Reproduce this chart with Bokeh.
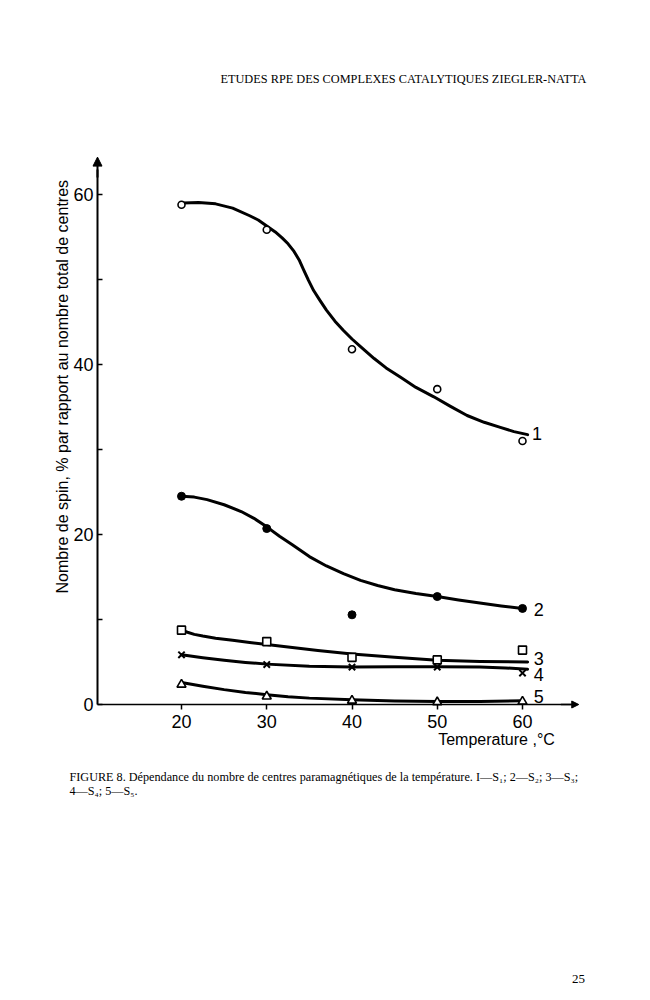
import math
from bokeh.plotting import figure
from bokeh.models import FixedTicker, Label, Arrow, NormalHead, Range1d
from bokeh.embed import file_html
from bokeh.resources import INLINE

# ---- data ----
temps = [20, 30, 40, 50, 60]
s1 = [58.8, 55.85, 41.8, 37.1, 31.0]
s2 = [24.5, 20.7, 10.55, 12.7, 11.3]
s3 = [8.75, 7.4, 5.55, 5.25, 6.4]
s4 = [5.85, 4.7, 4.4, 4.4, 3.7]
s5 = [2.35, 0.95, 0.47, 0.27, 0.35]

# hand-drawn fitted curves
c1_t = [20.2, 22, 24, 26, 28, 29, 30, 31, 31.8, 32.5, 33.2, 33.8, 34.3, 34.9, 35.5, 36.2, 37, 38, 39, 40, 41, 42.6, 44, 45.7, 47.5, 49.6, 51.5, 53.5, 55.5, 57.4, 59, 60.6]
c1_v = [59.0, 59.05, 58.9, 58.4, 57.5, 57.0, 56.3, 55.6, 54.9, 54.2, 53.3, 52.3, 51.2, 49.9, 48.7, 47.6, 46.4, 45.1, 44.0, 43.0, 42.1, 40.7, 39.6, 38.5, 37.3, 36.2, 35.1, 34.0, 33.2, 32.6, 32.1, 31.75]
c2_t = [20, 21.5, 23, 25, 27, 28.5, 30, 31.5, 33, 35, 37, 39, 41, 43, 45, 47.5, 50, 52.5, 55, 57.5, 60]
c2_v = [24.5, 24.4, 24.1, 23.5, 22.7, 21.9, 20.9, 19.8, 18.8, 17.4, 16.3, 15.4, 14.6, 14.0, 13.5, 13.05, 12.7, 12.3, 11.95, 11.6, 11.3]
c3_t = [20, 20.7, 21.5, 22.5, 24, 26, 28, 30, 33, 36, 40, 45, 50, 55, 60.6]
c3_v = [8.75, 8.5, 8.25, 8.05, 7.8, 7.55, 7.3, 7.05, 6.7, 6.35, 5.95, 5.55, 5.2, 5.05, 5.0]
c4_t = [20, 22.5, 25, 27.5, 30, 35, 40, 45, 50, 55, 58, 60.6]
c4_v = [5.85, 5.5, 5.2, 4.95, 4.75, 4.5, 4.42, 4.45, 4.45, 4.4, 4.3, 4.15]
c5_t = [20, 22.5, 25, 27.5, 30, 32.5, 35, 40, 45, 50, 55, 60]
c5_v = [2.6, 2.15, 1.75, 1.42, 1.15, 0.92, 0.75, 0.55, 0.4, 0.35, 0.35, 0.45]

x_ticks = [20, 30, 40, 50, 60]
y_ticks = [0, 20, 40, 60]
y_minor = [10, 30, 50]
curve_labels = ["1", "2", "3", "4", "5"]
curve_label_y = [31.9, 11.2, 5.4, 3.5, 0.94]

header = "ETUDES RPE DES COMPLEXES CATALYTIQUES ZIEGLER-NATTA"
caption1 = "FIGURE 8. Dépendance du nombre de centres paramagnétiques de la température. I—S₁; 2—S₂; 3—S₃;"
caption2 = "4—S₄; 5—S₅."
ylabel = "Nombre de spin, % par rapport  au nombre total de centres"
xlabel = "Temperature ,°C"
page_no = "25"

SANS = "Liberation Sans"
SERIF = "Liberation Serif"

# ---- figure: the frame covers the whole page, axes sit at fixed data locations ----
W, H = 642, 992
XPX, YPX = 8.525, 8.5          # pixels per data unit
PX20, PY0 = 181, 704           # page pixel of T=20 and of value 0


def tx(px):
    return 20 + (px - PX20) / XPX


def ty(py):
    return (PY0 - py) / YPX


x_axis_start = tx(97)
p = figure(width=W, height=H, x_range=Range1d(tx(0), tx(W)), y_range=Range1d(ty(H), ty(0)),
           output_backend="svg", toolbar_location=None,
           min_border_left=0, min_border_right=0, min_border_top=0, min_border_bottom=0)
p.outline_line_color = None
p.xgrid.visible = False
p.ygrid.visible = False
p.background_fill_color = "white"
p.border_fill_color = "white"

xa = p.xaxis[0]
xa.fixed_location = 0
xa.ticker = FixedTicker(ticks=x_ticks)
xa.bounds = (x_axis_start, 66.3)
xa.major_tick_out = 5
xa.major_tick_in = 0
xa.minor_tick_out = 0
xa.axis_line_width = 1.5
xa.major_tick_line_width = 1.5
xa.major_label_text_font = SANS
xa.major_label_text_font_size = "18px"
xa.major_label_text_color = "black"
xa.major_label_standoff = 5

ya = p.yaxis[0]
ya.fixed_location = x_axis_start
ya.ticker = FixedTicker(ticks=y_ticks, minor_ticks=y_minor)
ya.bounds = (0, 63.0)
ya.major_tick_in = 5
ya.major_tick_out = 0
ya.minor_tick_in = 5
ya.minor_tick_out = 0
ya.axis_line_width = 2
ya.major_tick_line_width = 1.5
ya.minor_tick_line_width = 1.5
ya.major_label_text_font = SANS
ya.major_label_text_font_size = "18px"
ya.major_label_text_color = "black"
ya.major_label_standoff = 4

# axis arrows
p.add_layout(Arrow(end=NormalHead(size=9, fill_color="black", line_color="black"),
                   x_start=x_axis_start, y_start=62.0, x_end=x_axis_start, y_end=64.4,
                   line_width=2, line_color="black"))
p.add_layout(Arrow(end=NormalHead(size=7, fill_color="black", line_color="black"),
                   x_start=64.5, y_start=0, x_end=66.6, y_end=0,
                   line_width=1.5, line_color="black"))

# curves
for ct, cv in [(c1_t, c1_v), (c2_t, c2_v), (c3_t, c3_v), (c4_t, c4_v), (c5_t, c5_v)]:
    p.line(ct, cv, line_width=3, line_color="black", line_join="round", line_cap="round")

# markers
p.scatter(temps, s1, marker="circle", size=7, fill_color="white", line_color="black", line_width=1.6)
p.scatter(temps, s2, marker="circle", size=8, fill_color="black", line_color="black")
p.scatter(temps, s3, marker="square", size=8, fill_color="white", line_color="black", line_width=1.6)
p.scatter(temps, s4, marker="x", size=9, line_color="black", line_width=2)
p.scatter(temps, s5, marker="triangle", size=9, fill_color="white", line_color="black", line_width=1.6)

# curve numbers
for i, (txt, yy) in enumerate(zip(curve_labels, curve_label_y)):
    p.add_layout(Label(x=61.9 if i else 61.7, y=yy, text=txt, text_font=SANS, text_font_size="18px",
                       text_align="center", text_baseline="middle", text_color="black"))


def page_label(px, py, text, **kw):
    p.add_layout(Label(x=tx(px), y=ty(py), text=text, text_color="black", **kw))


# axis titles
page_label(62, 384, ylabel, angle=math.pi / 2, text_font=SANS, text_font_size="16px",
           text_align="center", text_baseline="middle")
page_label(496, 739, xlabel, text_font=SANS, text_font_size="16px",
           text_align="center", text_baseline="middle")

# page texts
page_label(586, 78, header, text_font=SERIF, text_font_size="12.3px",
           text_align="right", text_baseline="middle")
page_label(69, 776, caption1, text_font=SERIF, text_font_size="12.2px",
           text_align="left", text_baseline="middle")
page_label(69, 790, caption2, text_font=SERIF, text_font_size="12.2px",
           text_align="left", text_baseline="middle")
page_label(578, 978, page_no, text_font=SERIF, text_font_size="13px",
           text_align="center", text_baseline="middle")

open("out.html", "w").write(file_html(p, INLINE))
